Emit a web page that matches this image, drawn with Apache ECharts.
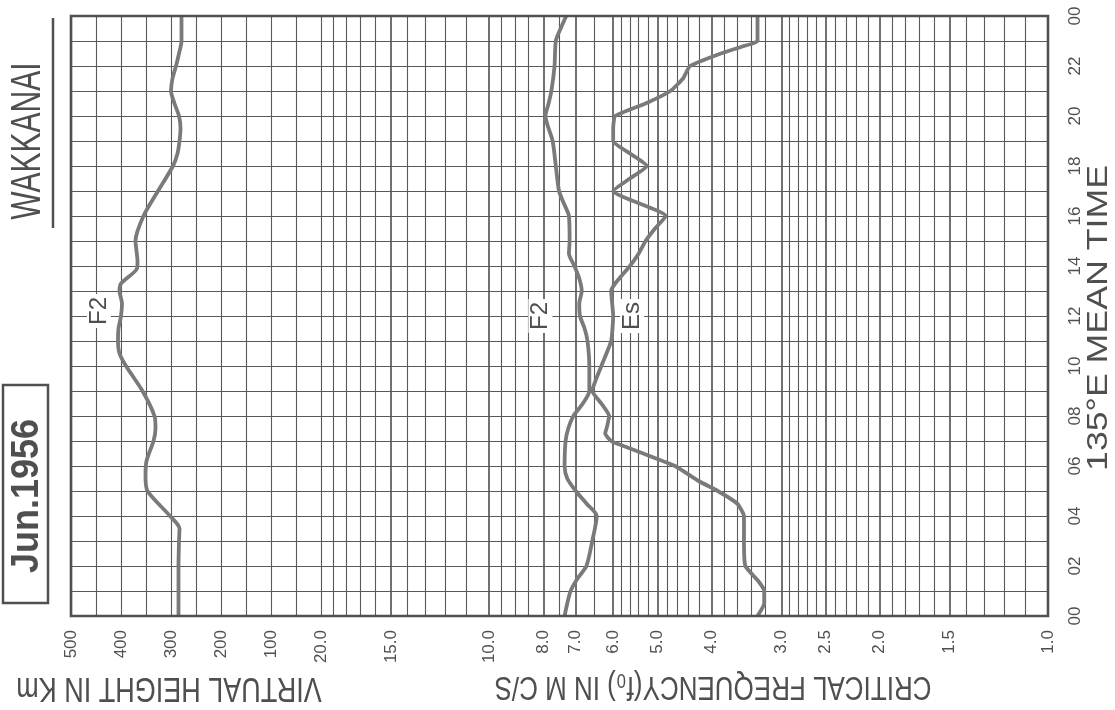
<!DOCTYPE html>
<html>
<head>
<meta charset="utf-8">
<script src="https://cdn.jsdelivr.net/npm/echarts@6/dist/echarts.min.js"></script>
<style>
html,body{margin:0;padding:0;background:#ffffff;}
#c{width:1115px;height:710px;}
</style>
</head>
<body>
<div id="c"></div>
<script>
// ---------- DATA ----------
// Virtual height h'F2 (km) vs 135°E mean time (h)
const heightTimes  = [0,1,2,3,3.5,4,5,5.6,6.2,7,7.5,8,9,10,10.5,11,11.5,12,12.5,13,13.3,13.9,14.2,15,16,17,18,18.5,19,19.5,20,20.5,21,21.5,22,22.5,23,24];
const heightValues = [285,285,285,284,283,302,347,351,349,335,331,333,357,390,403,406,405,400,398,403,400,368,367,371,355,326,296,287,283,281,284,293,300,297,290,284,279,279];

// Critical frequency foF2 (Mc/s)
const f2Times  = [0,0.5,1,1.5,2,3,4,4.5,5,5.5,6,7,7.5,8,8.5,9,10,11,11.5,12,12.5,13,13.5,14,14.5,15,16,16.5,17,18,19,20,20.5,21,22,23,23.5,24];
const f2Values = [7.33,7.25,7.15,6.95,6.7,6.54,6.42,6.7,7.0,7.25,7.33,7.3,7.22,7.07,6.8,6.62,6.62,6.67,6.75,6.88,6.9,6.83,6.9,7.04,7.2,7.18,7.2,7.35,7.5,7.6,7.7,7.93,7.83,7.74,7.64,7.6,7.45,7.28];

// Critical frequency foEs (Mc/s)
const esTimes  = [0,0.5,1,1.4,2,3,4,4.5,5,5.4,6,6.5,6.8,7,7.3,7.6,8,8.5,9,10,11,12,13,13.3,14,14.5,15,15.5,16,17,17.5,18,18.5,19,19.5,20,20.5,21,21.5,22,22.5,22.8,23,24];
const esValues = [3.31,3.22,3.22,3.3,3.48,3.5,3.5,3.6,3.9,4.22,4.65,5.3,5.75,6.05,6.2,6.15,6.1,6.3,6.54,6.3,6.05,6.0,6.05,5.95,5.6,5.4,5.25,5.05,4.83,6.0,5.6,5.22,5.6,6.0,6.0,5.95,5.25,4.74,4.5,4.37,3.85,3.5,3.31,3.31];

// Tick labels / grid rulings
const heightTickLabels = [500,400,300,200,100];
const freqTickLabels   = [20,15,10,8,7,6,5,4,3,2.5,2,1.5,1];
const freqGridLines    = [19,18,17,16,15,14,13,12,11,10,9.5,9,8.5,8,7.5,7,6.5,6,5.8,5.6,5.4,5.2,5,4.8,4.6,4.4,4.2,4,3.8,3.6,3.4,3.2,3,2.9,2.8,2.7,2.6,2.5,2.4,2.3,2.2,2.1,2,1.9,1.8,1.7,1.6,1.5,1.4,1.3,1.2,1.1];
const timeTickLabels   = [0,2,4,6,8,10,12,14,16,18,20,22,24];

// ---------- STYLE ----------
const GRID_COLOR  = '#595959';
const BORDER_COLOR = '#505050';
const CURVE_COLOR = '#7a7a7a';
const TEXT_COLOR  = '#4f4f4f';
const FONT = "'Liberation Sans', 'DejaVu Sans', sans-serif";

function pairs(values, times) { return times.map((t, i) => [values[i], t]); }
function pad2(v) { const h = Math.round(v) % 24; return (h < 10 ? '0' : '') + h; }

const chart = echarts.init(document.getElementById('c'), null, {renderer: 'canvas'});

const timeAxisCommon = {
  type: 'value', min: 0, max: 24, interval: 1,
  axisLine: {show: false}, axisTick: {show: false},
  splitLine: {show: true, lineStyle: {color: GRID_COLOR, width: 1.1}}
};

const option = {
  backgroundColor: '#ffffff',
  animation: false,
  grid: [
    {left: 71, top: 16, width: 250, height: 600, show: false, outerBoundsMode: 'none', containLabel: false},
    {left: 321, top: 16, width: 727, height: 600, show: false, outerBoundsMode: 'none', containLabel: false}
  ],
  xAxis: [
    {gridIndex: 0, type: 'value', min: 0, max: 500, interval: 50, inverse: true,
     axisLine: {show: false}, axisTick: {show: false},
     splitLine: {show: true, lineStyle: {color: GRID_COLOR, width: 1.1}},
     axisLabel: {show: true, rotate: 90, margin: 14, fontSize: 17, fontFamily: FONT, color: TEXT_COLOR,
       showMinLabel: true, showMaxLabel: true,
       formatter: v => heightTickLabels.indexOf(v) >= 0 ? String(v) : ''}},
    {gridIndex: 1, type: 'log', logBase: 10, min: 1, max: 20, inverse: true,
     axisLine: {show: false}, axisTick: {show: false}, axisLabel: {show: false},
     splitLine: {show: false}, minorSplitLine: {show: false}}
  ],
  yAxis: [
    Object.assign({gridIndex: 0, axisLabel: {show: false}}, timeAxisCommon),
    Object.assign({gridIndex: 1, position: 'right',
      axisLabel: {show: true, rotate: 90, margin: 19, fontSize: 17, fontFamily: FONT, color: TEXT_COLOR,
        showMinLabel: true, showMaxLabel: true,
        formatter: v => timeTickLabels.indexOf(v) >= 0 ? pad2(v) : ''}}, timeAxisCommon)
  ],
  series: [
    {
      name: 'grid rulings', type: 'line', xAxisIndex: 1, yAxisIndex: 1, data: [],
      silent: true, z: 1,
      markLine: {
        silent: true, z: 1, symbol: ['none', 'none'], animation: false,
        label: {show: false},
        lineStyle: {color: GRID_COLOR, width: 1.1, type: 'solid'},
        emphasis: {disabled: true},
        data: freqGridLines.map(v => ({
          xAxis: v,
          lineStyle: {color: GRID_COLOR, type: 'solid', width: freqTickLabels.indexOf(v) >= 0 ? 1.7 : 1.1}
        }))
      }
    },
    {
      name: "h'F2", type: 'line', xAxisIndex: 0, yAxisIndex: 0, z: 10,
      data: pairs(heightValues, heightTimes), smooth: 0.25, showSymbol: false, symbol: 'none',
      lineStyle: {color: CURVE_COLOR, width: 3.8}, silent: true
    },
    {
      name: 'foF2', type: 'line', xAxisIndex: 1, yAxisIndex: 1, z: 10,
      data: pairs(f2Values, f2Times), smooth: 0.25, showSymbol: false, symbol: 'none',
      lineStyle: {color: CURVE_COLOR, width: 3.8}, silent: true
    },
    {
      name: 'foEs', type: 'line', xAxisIndex: 1, yAxisIndex: 1, z: 10,
      data: pairs(esValues, esTimes), smooth: 0.15, showSymbol: false, symbol: 'none',
      lineStyle: {color: CURVE_COLOR, width: 3.8}, silent: true
    }
  ]
};

chart.setOption(option);

// ---------- TEXT / ANNOTATIONS ----------
const labelStyle = (text, size, extra) => Object.assign({
  text: text, font: size + 'px ' + FONT, fill: TEXT_COLOR, align: 'center', verticalAlign: 'middle'
}, extra || {});

const graphics = [];

// Outer frame of the whole plotting area, from the axes' extents
const tl = chart.convertToPixel({xAxisIndex: 0, yAxisIndex: 0}, [500, 24]);
const br = chart.convertToPixel({xAxisIndex: 1, yAxisIndex: 1}, [1, 0]);
graphics.push({type: 'rect', z: 15, shape: {x: tl[0], y: tl[1], width: br[0] - tl[0], height: br[1] - tl[1]},
  style: {fill: 'none', stroke: BORDER_COLOR, lineWidth: 2.6}});

// Frequency tick labels, positioned through the log axis scale
freqTickLabels.forEach(v => {
  const p = chart.convertToPixel({xAxisIndex: 1, yAxisIndex: 1}, [v, 0]);
  graphics.push({
    type: 'text', x: p[0], y: p[1] + 14, rotation: Math.PI / 2, z: 20,
    style: labelStyle(v.toFixed(1), 17, {align: 'right', verticalAlign: 'middle'})
  });
});

// Curve labels, positioned through the scales
function curveLabel(text, axisIdx, xVal, tVal) {
  const p = chart.convertToPixel({xAxisIndex: axisIdx, yAxisIndex: axisIdx}, [xVal, tVal]);
  graphics.push({
    type: 'text', x: p[0], y: p[1], rotation: Math.PI / 2, z: 20,
    style: labelStyle(text, 24, {backgroundColor: '#ffffff', padding: [0, 3]})
  });
}
curveLabel('F2', 0, 444, 12.2);
curveLabel('F2', 1, 8.1, 12);
curveLabel('Es', 1, 5.55, 12);

// Titles
graphics.push(
  {type: 'text', x: 28, y: 141, rotation: Math.PI / 2, scaleY: 1.4, z: 20,
   style: labelStyle('WAKKANAI', 30)},
  {type: 'line', z: 20, shape: {x1: 53, y1: 18, x2: 53, y2: 228},
   style: {stroke: BORDER_COLOR, lineWidth: 2.5}},
  {type: 'rect', z: 20, shape: {x: 3, y: 385, width: 45, height: 218},
   style: {fill: 'none', stroke: BORDER_COLOR, lineWidth: 2.5}},
  {type: 'text', x: 27.5, y: 496, rotation: Math.PI / 2, scaleY: 1.1, z: 20,
   style: labelStyle('Jun.1956', 36, {font: 'bold 36px ' + FONT})},
  {type: 'text', x: 169, y: 688, rotation: Math.PI, scaleY: 1.3, z: 20,
   style: labelStyle('VIRTUAL HEIGHT IN Km', 27)},
  {type: 'text', x: 713, y: 686, rotation: Math.PI, scaleY: 1.3, z: 20,
   style: labelStyle('CRITICAL FREQUENCY(f\u2080) IN M C/S', 26)},
  {type: 'text', x: 1099, y: 318, rotation: Math.PI / 2, scaleX: 1.19, z: 20,
   style: labelStyle('135\u00B0E MEAN TIME', 30)}
);

chart.setOption({graphic: graphics});
</script>
</body>
</html>
